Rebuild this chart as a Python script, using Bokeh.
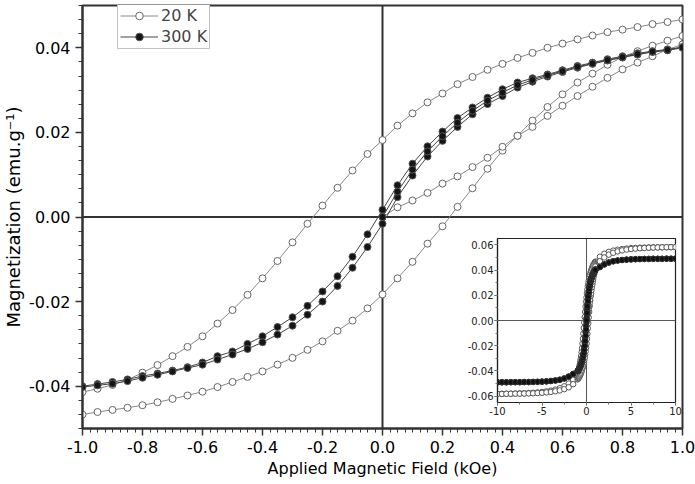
import numpy as np
from bokeh.plotting import figure
from bokeh.layouts import column
from bokeh.models import (Range1d, Span, Legend, LegendItem, FixedTicker,
                          NumeralTickFormatter)
from bokeh.embed import file_html
from bokeh.resources import INLINE

FONT = "DejaVu Sans"

# ---------------------------------------------------------------------------
# Low-field sweep (kOe)
field_up = [-1.00, -0.95, -0.90, -0.85, -0.80, -0.75, -0.70, -0.65, -0.60, -0.55,
            -0.50, -0.45, -0.40, -0.35, -0.30, -0.25, -0.20, -0.15, -0.10, -0.05,
            0.00, 0.05, 0.10, 0.15, 0.20, 0.25, 0.30, 0.35, 0.40, 0.45,
            0.50, 0.55, 0.60, 0.65, 0.70, 0.75, 0.80, 0.85, 0.90, 0.95, 1.00]
field_down = field_up[::-1]
field_virgin = field_up[20:]

# 20 K loop (emu/g)
m20_down = [0.0467, 0.0461, 0.0456, 0.0449, 0.0443, 0.0437, 0.0429, 0.0420, 0.0410, 0.0400,
            0.0388, 0.0376, 0.0362, 0.0348, 0.0331, 0.0314, 0.0292, 0.0271, 0.0245, 0.0216,
            0.0182, 0.0149, 0.0110, 0.0069, 0.0027, -0.0016, -0.0060, -0.0104, -0.0145, -0.0184,
            -0.0220, -0.0252, -0.0282, -0.0307, -0.0329, -0.0350, -0.0368, -0.0385, -0.0397, -0.0406,
            -0.0414]
m20_up = [-0.0467, -0.0461, -0.0456, -0.0451, -0.0445, -0.0438, -0.0430, -0.0422, -0.0413, -0.0402,
          -0.0390, -0.0378, -0.0365, -0.0349, -0.0333, -0.0314, -0.0294, -0.0269, -0.0245, -0.0216,
          -0.0183, -0.0145, -0.0106, -0.0063, -0.0022, 0.0024, 0.0068, 0.0114, 0.0157, 0.0192,
          0.0228, 0.0260, 0.0290, 0.0318, 0.0339, 0.0360, 0.0378, 0.0392, 0.0405, 0.0417,
          0.0428]
m20_virgin = [0.0000, 0.0023, 0.0039, 0.0057, 0.0079, 0.0096, 0.0118, 0.0140, 0.0166, 0.0192,
              0.0213, 0.0239, 0.0263, 0.0286, 0.0308, 0.0329, 0.0349, 0.0365, 0.0380, 0.0396,
              0.0408]

# 300 K loop (emu/g)
m300_down = [0.0402, 0.0396, 0.0392, 0.0387, 0.0380, 0.0373, 0.0365, 0.0357, 0.0347, 0.0337,
             0.0328, 0.0318, 0.0302, 0.0282, 0.0259, 0.0234, 0.0202, 0.0167, 0.0126, 0.0075,
             0.0017, -0.0041, -0.0094, -0.0140, -0.0176, -0.0210, -0.0237, -0.0260, -0.0282, -0.0300,
             -0.0318, -0.0329, -0.0344, -0.0355, -0.0363, -0.0370, -0.0376, -0.0384, -0.0390, -0.0395,
             -0.0400]
m300_up = [-0.0402, -0.0398, -0.0394, -0.0388, -0.0380, -0.0373, -0.0365, -0.0357, -0.0349, -0.0337,
           -0.0325, -0.0312, -0.0296, -0.0278, -0.0257, -0.0231, -0.0200, -0.0163, -0.0120, -0.0071,
           -0.0016, 0.0047, 0.0098, 0.0143, 0.0180, 0.0213, 0.0243, 0.0267, 0.0286, 0.0306,
           0.0320, 0.0332, 0.0343, 0.0353, 0.0362, 0.0370, 0.0377, 0.0384, 0.0390, 0.0394,
           0.0400]
m300_virgin = [0.0000, 0.0060, 0.0112, 0.0155, 0.0191, 0.0223, 0.0251, 0.0275, 0.0294, 0.0312,
               0.0324, 0.0335, 0.0345, 0.0355, 0.0363, 0.0371, 0.0378, 0.0385, 0.0391, 0.0395,
               0.0401]

# High-field parts of the full +/-10 kOe loops (inset)
high_field = [1.5, 2.0, 2.5, 3.0, 3.5, 4.0, 4.5, 5.0, 5.5, 6.0,
              6.5, 7.0, 7.5, 8.0, 8.5, 9.0, 9.5, 10.0]
neg_field = [-1.5, -2.0, -2.5, -3.0, -3.5, -4.0, -4.5, -5.0, -5.5, -6.0,
             -6.5, -7.0, -7.5, -8.0, -8.5, -9.0, -9.5, -10.0]

# descending branch: +10 -> +1.5 (listed) and -1.5 -> -10
m20_down_pos = [0.0582, 0.0582, 0.0581, 0.0581, 0.0580, 0.0580, 0.0579, 0.0578, 0.0577, 0.0575,
                0.0573, 0.0570, 0.0566, 0.0561, 0.0554, 0.0544, 0.0529, 0.0505]
m20_down_neg = [-0.0470, -0.0500, -0.0522, -0.0537, -0.0548, -0.0556, -0.0562, -0.0567, -0.0570, -0.0573,
                -0.0575, -0.0577, -0.0578, -0.0579, -0.0580, -0.0581, -0.0581, -0.0582]
# ascending branch: -10 -> -1.5 and +1.5 -> +10
m20_up_neg = [-0.0582, -0.0582, -0.0581, -0.0581, -0.0580, -0.0580, -0.0579, -0.0578, -0.0577, -0.0575,
              -0.0573, -0.0570, -0.0566, -0.0561, -0.0554, -0.0544, -0.0529, -0.0505]
m20_up_pos = [0.0470, 0.0500, 0.0522, 0.0537, 0.0548, 0.0556, 0.0562, 0.0567, 0.0570, 0.0573,
              0.0575, 0.0577, 0.0578, 0.0579, 0.0580, 0.0581, 0.0581, 0.0582]

m300_down_pos = [0.0490, 0.0490, 0.0490, 0.0489, 0.0489, 0.0489, 0.0488, 0.0488, 0.0487, 0.0486,
                 0.0485, 0.0483, 0.0480, 0.0476, 0.0470, 0.0460, 0.0445, 0.0424]
m300_down_neg = [-0.0423, -0.0444, -0.0459, -0.0469, -0.0475, -0.0479, -0.0482, -0.0484, -0.0486, -0.0487,
                 -0.0488, -0.0488, -0.0489, -0.0489, -0.0489, -0.0490, -0.0490, -0.0490]
m300_up_neg = [-0.0490, -0.0490, -0.0490, -0.0489, -0.0489, -0.0489, -0.0488, -0.0488, -0.0487, -0.0486,
               -0.0485, -0.0483, -0.0480, -0.0476, -0.0470, -0.0460, -0.0445, -0.0424]
m300_up_pos = [0.0423, 0.0444, 0.0459, 0.0469, 0.0475, 0.0479, 0.0482, 0.0484, 0.0486, 0.0487,
               0.0488, 0.0488, 0.0489, 0.0489, 0.0489, 0.0490, 0.0490, 0.0490]

x_ticks = [-1.0, -0.8, -0.6, -0.4, -0.2, 0.0, 0.2, 0.4, 0.6, 0.8, 1.0]
y_ticks = [-0.04, -0.02, 0.00, 0.02, 0.04]
inset_x_ticks = [-10, -5, 0, 5, 10]
inset_y_ticks = [-0.06, -0.04, -0.02, 0.00, 0.02, 0.04, 0.06]

# ---------------------------------------------------------------------------
# Main panel
p = figure(width=695, height=484, x_range=Range1d(-1.0, 1.0), y_range=Range1d(-0.05, 0.05),
           output_backend="svg", toolbar_location=None,
           min_border_left=81, min_border_right=13, min_border_top=5, min_border_bottom=56)
p.xgrid.visible = False
p.ygrid.visible = False
p.background_fill_color = "white"
p.border_fill_color = "white"
p.outline_line_color = "#333333"
p.outline_line_width = 2

for loc, dim in ((0, "width"), (0, "height")):
    p.add_layout(Span(location=loc, dimension=dim, line_color="#333333",
                      line_width=2, level="underlay"))

style20 = dict(line_color="#888888", line_width=1)
mark20 = dict(marker="circle", size=7, fill_color="white", line_color="#666666", line_width=1)
style300 = dict(line_color="#444444", line_width=1)
mark300 = dict(marker="circle", size=7, fill_color="#151515", line_color="#555555", line_width=1)

l20 = p.line(field_down, m20_down, **style20)
s20 = p.scatter(field_down, m20_down, **mark20)
p.line(field_up, m20_up, **style20)
p.scatter(field_up, m20_up, **mark20)
p.line(field_virgin, m20_virgin, **style20)
p.scatter(field_virgin, m20_virgin, **mark20)

l300 = p.line(field_down, m300_down, **style300)
s300 = p.scatter(field_down, m300_down, **mark300)
p.line(field_up, m300_up, **style300)
p.scatter(field_up, m300_up, **mark300)
p.line(field_virgin, m300_virgin, **style300)
p.scatter(field_virgin, m300_virgin, **mark300)

p.xaxis.ticker = FixedTicker(ticks=x_ticks, minor_ticks=list(np.linspace(-1.0, 1.0, 81)))
p.yaxis.ticker = FixedTicker(ticks=y_ticks, minor_ticks=list(np.linspace(-0.06, 0.06, 37)))
p.xaxis.formatter = NumeralTickFormatter(format="0.0")
p.yaxis.formatter = NumeralTickFormatter(format="0.00")
p.xaxis.axis_label = "Applied Magnetic Field (kOe)"
p.yaxis.axis_label = "Magnetization (emu.g\u207b\u00b9)"

for ax in (p.xaxis, p.yaxis):
    ax.axis_line_color = "#333333"
    ax.axis_line_width = 2
    ax.major_tick_line_color = "#333333"
    ax.major_tick_line_width = 1.5
    ax.major_tick_in = 0
    ax.major_tick_out = 7
    ax.minor_tick_line_color = "#333333"
    ax.minor_tick_line_width = 1
    ax.minor_tick_in = 0
    ax.minor_tick_out = 4
    ax.major_label_text_font = FONT
    ax.major_label_text_font_size = "16px"
    ax.major_label_text_color = "black"
    ax.major_label_standoff = 5
    ax.axis_label_text_font = FONT
    ax.axis_label_text_font_size = "16px"
    ax.axis_label_text_font_style = "normal"
    ax.axis_label_text_color = "black"
    ax.axis_label_standoff = 3
p.yaxis.axis_label_text_font_size = "18px"
p.yaxis.axis_label_standoff = 2

legend = Legend(items=[LegendItem(label="20 K", renderers=[l20, s20]),
                       LegendItem(label="300 K", renderers=[l300, s300])],
                location=(35, 379))
legend.label_text_font = FONT
legend.label_text_font_size = "16px"
legend.label_height = 19
legend.glyph_height = 19
legend.glyph_width = 38
legend.label_standoff = 3
legend.padding = 2
legend.spacing = 2
legend.margin = 0
legend.border_line_color = "#888888"
legend.border_line_width = 1
legend.background_fill_color = "white"
legend.background_fill_alpha = 1
p.add_layout(legend)

# ---------------------------------------------------------------------------
# Inset: full +/-10 kOe loops
inset = figure(width=273, height=194, x_range=Range1d(-10, 10), y_range=Range1d(-0.065, 0.065),
               output_backend="svg", toolbar_location=None,
               min_border_left=40, min_border_right=10, min_border_top=8, min_border_bottom=22)
inset.xgrid.visible = False
inset.ygrid.visible = False
inset.background_fill_color = "white"
inset.border_fill_alpha = 0
inset.outline_line_color = "#222222"
inset.outline_line_width = 1.2
for dim in ("width", "height"):
    inset.add_layout(Span(location=0, dimension=dim, line_color="#555555",
                          line_width=1, level="underlay"))

in20 = dict(marker="circle", size=5.5, fill_color="white", line_color="#555555", line_width=1)
in300 = dict(marker="circle", size=5.5, fill_color="#111111", line_color="#333333", line_width=1)

full_down = high_field[::-1] + field_down + neg_field
full_up = neg_field[::-1] + field_up + high_field

inset.line(full_down, m20_down_pos + m20_down + m20_down_neg, line_color="#777777", line_width=1)
inset.scatter(full_down, m20_down_pos + m20_down + m20_down_neg, **in20)
inset.line(full_up, m20_up_neg + m20_up + m20_up_pos, line_color="#777777", line_width=1)
inset.scatter(full_up, m20_up_neg + m20_up + m20_up_pos, **in20)
inset.scatter(field_virgin, m20_virgin, **in20)

inset.line(full_down, m300_down_pos + m300_down + m300_down_neg, line_color="#222222", line_width=1)
inset.scatter(full_down, m300_down_pos + m300_down + m300_down_neg, **in300)
inset.line(full_up, m300_up_neg + m300_up + m300_up_pos, line_color="#222222", line_width=1)
inset.scatter(full_up, m300_up_neg + m300_up + m300_up_pos, **in300)
inset.scatter(field_virgin, m300_virgin, **in300)

inset.xaxis.ticker = FixedTicker(ticks=inset_x_ticks, minor_ticks=list(np.linspace(-10, 10, 9)))
inset.yaxis.ticker = FixedTicker(ticks=inset_y_ticks, minor_ticks=list(np.linspace(-0.06, 0.06, 13)))
inset.xaxis.formatter = NumeralTickFormatter(format="0")
inset.yaxis.formatter = NumeralTickFormatter(format="0.00")
for ax in (inset.xaxis, inset.yaxis):
    ax.axis_line_color = "#222222"
    ax.axis_line_width = 1.2
    ax.major_tick_line_color = "#555555"
    ax.major_tick_in = 0
    ax.major_tick_out = 3
    ax.minor_tick_line_color = "#777777"
    ax.minor_tick_in = 0
    ax.minor_tick_out = 2
    ax.major_label_text_font = FONT
    ax.major_label_text_font_size = "10px"
    ax.major_label_text_color = "#222222"
    ax.major_label_standoff = 1

inset.margin = (230 - 484, 0, 0, 415)

layout = column(p, inset)
open("out.html", "w").write(file_html(layout, INLINE))
